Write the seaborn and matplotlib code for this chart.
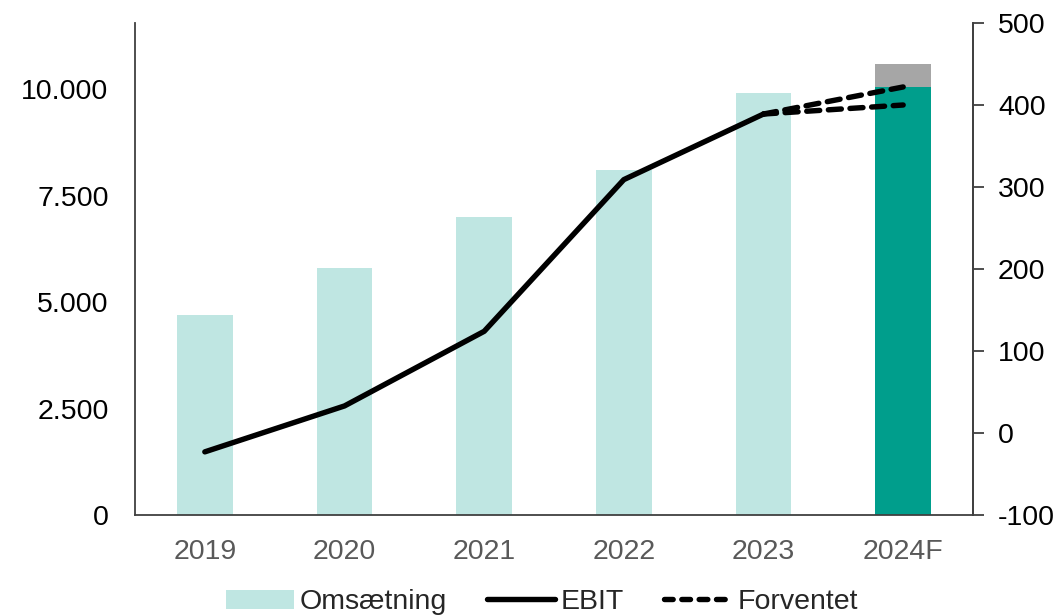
import numpy as np
import pandas as pd
import matplotlib
matplotlib.use('Agg')
import matplotlib.pyplot as plt
import seaborn as sns
from matplotlib.lines import Line2D
from matplotlib.patches import Patch
from matplotlib.ticker import FuncFormatter

# Data
years = ['2019', '2020', '2021', '2022', '2023', '2024F']
revenue = [4700, 5800, 7000, 8100, 9900, 10050]
revenue_top = [0, 0, 0, 0, 0, 10580]   # upper end of 2024 guidance (grey)
ebit = [-23, 33, 124, 309, 389]
ebit_years = ['2019', '2020', '2021', '2022', '2023']
fc_years = ['2023', '2024F']
fc_high = [389, 422]
fc_low = [389, 400]

light = '#BFE6E2'
dark = '#009E8C'
grey = '#A6A6A6'
spine_col = '#404040'

sns.set_style('white')
plt.rcParams['font.family'] = ['Liberation Sans', 'DejaVu Sans']
plt.rcParams['axes.unicode_minus'] = False
fs = 20.5

fig = plt.figure(figsize=(10.61, 6.16), dpi=100)
ax = fig.add_axes([135 / 1061, 101 / 616, 838 / 1061, 492 / 616])

df = pd.DataFrame({'year': years, 'revenue': revenue, 'top': revenue_top})
sns.barplot(data=df, x='year', y='top', color=grey, width=0.4, saturation=1, ax=ax)
sns.barplot(data=df, x='year', y='revenue', hue='year', saturation=1,
            palette=[light] * 5 + [dark], width=0.4, legend=False, ax=ax)
for p in ax.patches:
    p.set_edgecolor('none')

ax.set_xlim(-0.5, 5.5)
ax.set_ylim(0, 11550)
ax.set_yticks([0, 2500, 5000, 7500, 10000])
ax.yaxis.set_major_formatter(FuncFormatter(lambda v, _: f'{int(v):,}'.replace(',', '.')))
ax.set_xlabel('')
ax.set_ylabel('')
ax.tick_params(axis='y', length=0, labelsize=fs, colors='black', pad=19)
ax.tick_params(axis='x', length=0, labelsize=fs, labelcolor='#595959', pad=17)

ax2 = ax.twinx()
pos = {y: i for i, y in enumerate(years)}
lw = 3.9
sns.lineplot(x=[pos[y] for y in ebit_years], y=ebit, color='black', lw=lw,
             ax=ax2, solid_capstyle='round', solid_joinstyle='round')
for vals in (fc_high, fc_low):
    sns.lineplot(x=[pos[y] for y in fc_years], y=vals, color='black', lw=lw,
                 linestyle=(0, (2.4, 1.6)), dash_capstyle='round', ax=ax2)
ax2.set_ylim(-100, 500)
ax2.set_yticks(range(-100, 501, 100))
ax2.set_ylabel('')
ax2.tick_params(axis='y', length=8, width=1.3, color=spine_col, labelcolor='black',
                labelsize=fs, pad=10)

for a in (ax, ax2):
    a.spines['top'].set_visible(False)
    for s in ('left', 'right', 'bottom'):
        a.spines[s].set_color(spine_col)
        a.spines[s].set_linewidth(1.3)
ax2.spines['left'].set_visible(False)
ax2.spines['bottom'].set_visible(False)

handles = [Patch(facecolor=light, edgecolor='none'),
           Line2D([], [], color='black', lw=lw, solid_capstyle='round'),
           Line2D([], [], color='black', lw=lw, linestyle=(0, (1.6, 1.6)), dash_capstyle='round')]
fig.legend(handles, ['Omsætning', 'EBIT', 'Forventet'], loc='center',
           bbox_to_anchor=(0.511, 0.022), ncol=3, frameon=False, fontsize=fs,
           handlelength=2.4, handleheight=0.7, handletextpad=0.2, columnspacing=1.4)

fig.savefig('out.png', dpi=100)
